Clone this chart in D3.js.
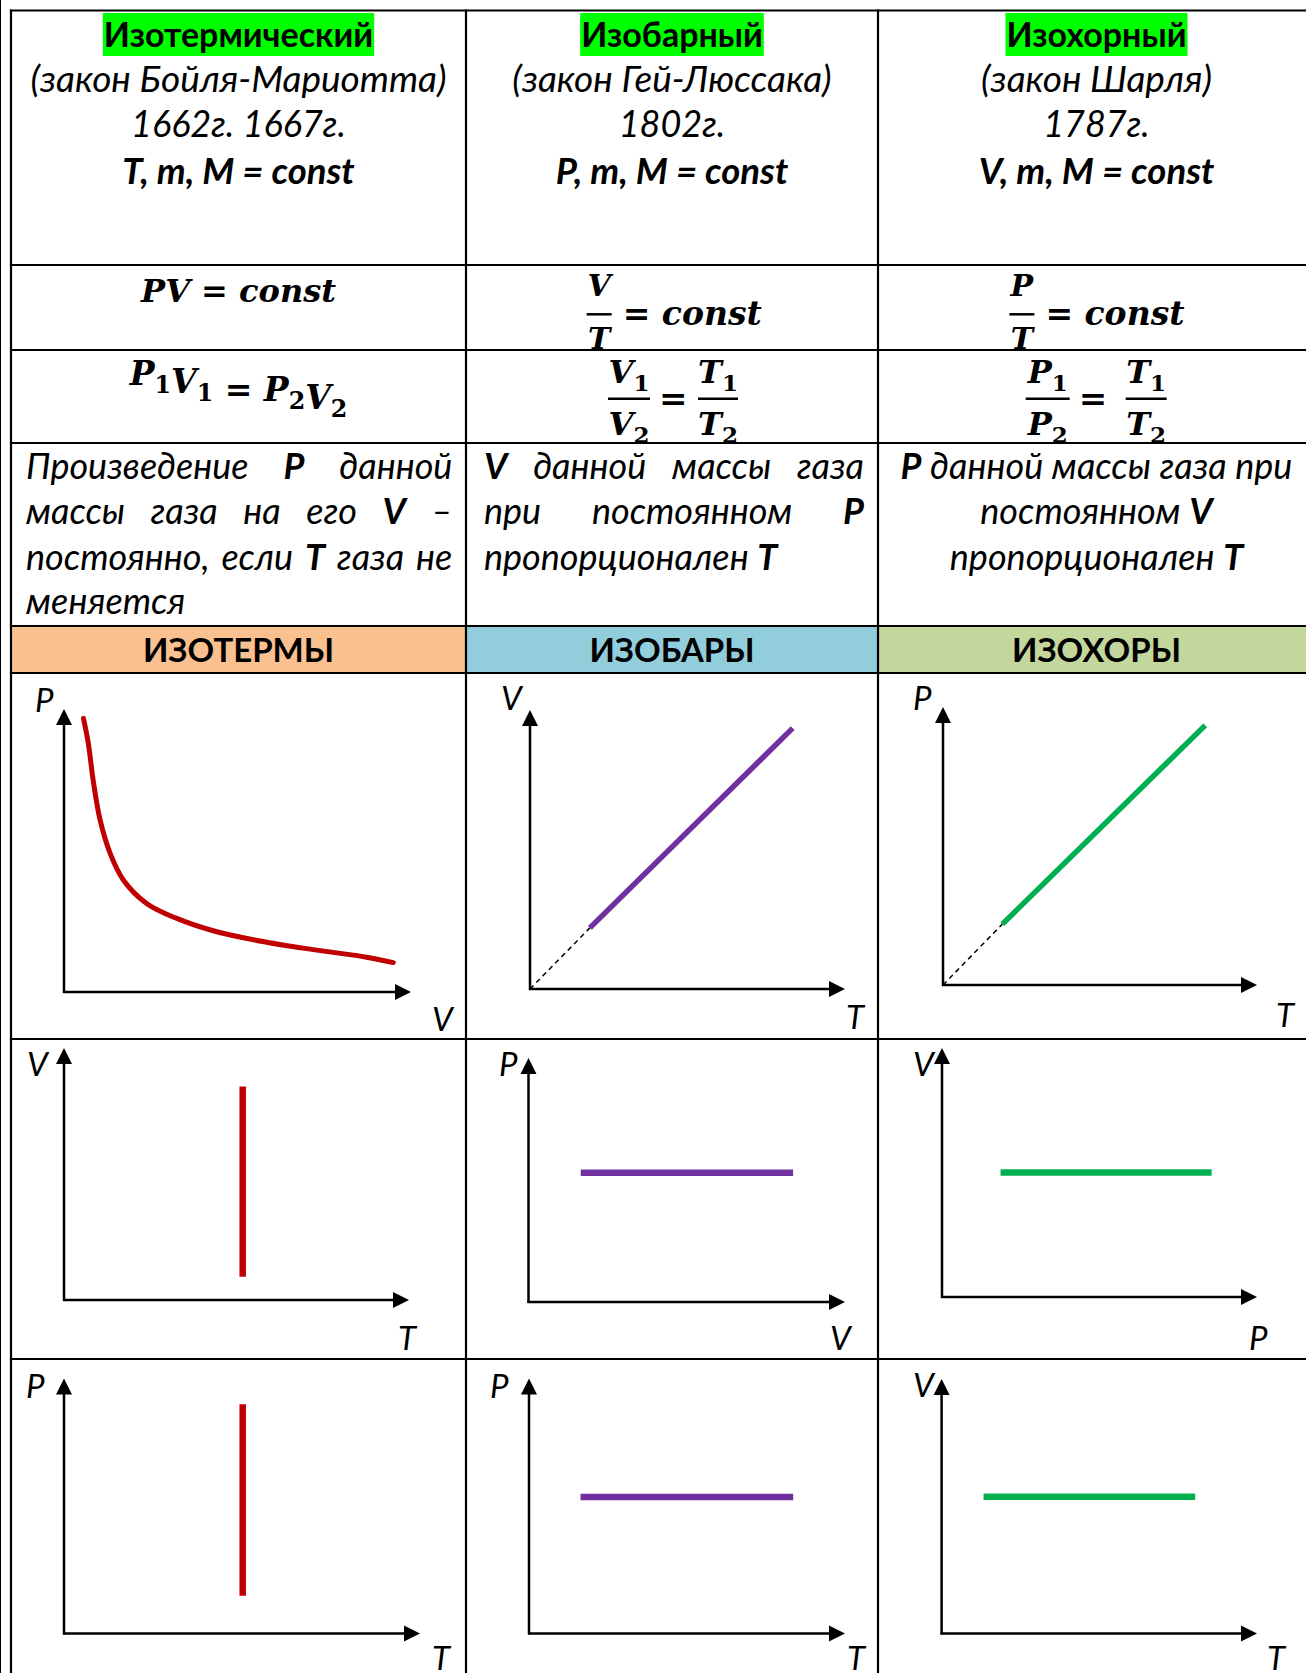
<!DOCTYPE html>
<html>
<head>
<meta charset="utf-8">
<script src="https://cdn.jsdelivr.net/npm/d3@7"></script>
<style>
  body { margin: 0; background: #fff; }
  svg { display: block; }
</style>
</head>
<body>
<svg id="chart" width="1306" height="1673"></svg>
<script>
// ---- data ----
const lawTitles = ["Изотермический", "Изобарный", "Изохорный"];
const lawNames = ["(закон Бойля-Мариотта)", "(закон Гей-Люссака)", "(закон Шарля)"];
const lawYears = ["1662г. 1667г.", "1802г.", "1787г."];
const lawConsts = ["T, m, M = const", "P, m, M = const", "V, m, M = const"];
const processNames = ["ИЗОТЕРМЫ", "ИЗОБАРЫ", "ИЗОХОРЫ"];

const ratioNum = ["V", "P"];
const ratioDen = ["T", "T"];

// bold words are wrapped in *...*
const descLines = [
  ["Произведение *P* данной", "массы газа на его *V* –", "постоянно, если *T* газа не", "меняется"],
  ["*V* данной массы газа", "при постоянном *P*", "пропорционален *T*"],
  ["*P* данной массы газа при", "постоянном *V*", "пропорционален *T*"]
];
const descAlign = [
  ["justify", "justify", "justify", "left"],
  ["justify", "justify", "left"],
  ["center", "center", "center"]
];

// axis names per chart: [y, x]
const axisNames = [
  [["P", "V"], ["V", "T"], ["P", "T"]],
  [["V", "T"], ["P", "V"], ["V", "P"]],
  [["P", "T"], ["P", "T"], ["V", "T"]]
];

// series in axis units (0..10)
const isothermPV = [[0.56, 9.67], [0.70, 8.79], [0.84, 7.49], [1.04, 6.08], [1.33, 4.90], [1.71, 3.96],
  [2.38, 3.13], [3.25, 2.60], [4.40, 2.13], [5.84, 1.76], [7.28, 1.48], [8.72, 1.23], [9.49, 1.04]];
const isobarVT = [[1.90, 2.19], [8.34, 9.35]];
const isochorPT = [[1.89, 2.19], [8.35, 9.34]];
const isothermVT = [[5.18, 0.92], [5.18, 8.47]];
const isobarPV = [[1.65, 5.30], [8.36, 5.30]];
const isochorVP = [[1.86, 5.00], [8.56, 5.00]];
const isothermPT = [[5.02, 1.48], [5.02, 8.99]];
const isobarPT = [[1.63, 5.35], [8.36, 5.35]];
const isochorVT = [[1.33, 5.37], [8.04, 5.37]];

// ---- layout ----
const svg = d3.select("#chart");
const colX = [11, 466, 878, 1315];
const rowY = [10.5, 265, 350, 443, 626, 673, 1039, 1359, 1700];
const colMid = i => (colX[i] + colX[i + 1]) / 2;
const textFont = "Lato, 'Open Sans', sans-serif";
const mathFont = "'DejaVu Serif', serif";

const red = "#c00000", purple = "#7030a0", green = "#00b050";
const bandColors = ["#fac090", "#92cddc", "#c3d69b"];

// coloured band with process names
svg.selectAll("rect.band")
  .data(processNames)
  .enter()
  .append("rect")
  .attr("class", "band")
  .attr("x", (d, i) => colX[i])
  .attr("y", rowY[4])
  .attr("width", (d, i) => colX[i + 1] - colX[i])
  .attr("height", rowY[5] - rowY[4])
  .attr("fill", (d, i) => bandColors[i]);

svg.selectAll("text.proc")
  .data(processNames)
  .enter()
  .append("text")
  .attr("class", "proc")
  .attr("x", (d, i) => colMid(i))
  .attr("y", 662)
  .attr("text-anchor", "middle")
  .style("font-family", textFont)
  .style("font-weight", 700)
  .style("font-size", "33px")
  .text(d => d);

// header block
let hlLayer = svg.append("g");
lawTitles.forEach((t, i) => {
  let txt = svg.append("text")
    .attr("x", colMid(i)).attr("y", 46.7)
    .attr("text-anchor", "middle")
    .style("font-family", textFont)
    .style("font-weight", 700)
    .style("font-size", "34px")
    .text(t);
  let bb = txt.node().getBBox();
  hlLayer.append("rect")
    .attr("x", bb.x - 1).attr("y", 13)
    .attr("width", bb.width + 2).attr("height", 43)
    .attr("fill", "#00ff00");
});

function headerLine(arr, y, weight, size) {
  svg.selectAll(null)
    .data(arr)
    .enter()
    .append("text")
    .attr("x", (d, i) => colMid(i))
    .attr("y", y)
    .attr("text-anchor", "middle")
    .style("font-family", textFont)
    .style("font-style", "italic")
    .style("font-weight", weight)
    .style("font-size", size + "px")
    .text(d => d);
}
headerLine(lawNames, 92, 400, 37);
headerLine(lawYears, 137, 400, 36);
headerLine(lawConsts, 183.5, 700, 36.5);

// formulas
function mathText(x, y, str, size, anchor) {
  // "_1" marks a subscript digit
  let t = svg.append("text")
    .attr("x", x).attr("y", y)
    .attr("text-anchor", anchor || "middle")
    .style("font-family", mathFont)
    .style("font-style", "italic")
    .style("font-weight", 700)
    .style("font-size", size + "px");
  let parts = str.split(/(_\d)/).filter(s => s.length);
  parts.forEach(p => {
    if (p[0] === "_") {
      t.append("tspan").attr("dy", size * 0.24)
        .style("font-size", (size * 0.72) + "px").style("font-style", "normal")
        .text(p.slice(1));
      t.append("tspan").attr("dy", -size * 0.24).text("");
    } else {
      t.append("tspan").text(p);
    }
  });
  return t;
}

function fraction(x0, x1, barY, num, den, size, numY, denY) {
  let cx = (x0 + x1) / 2;
  mathText(cx, numY, num, size);
  mathText(cx, denY, den, size);
  svg.append("line")
    .attr("x1", x0).attr("x2", x1)
    .attr("y1", barY).attr("y2", barY)
    .attr("stroke", "#000").attr("stroke-width", 2.5);
}

mathText(colMid(0), 302, "PV = const", 32);
mathText(colMid(0), 385, "P_1V_1 = P_2V_2", 33);

// V/T = const, P/T = const
[[586.7, 611.7], [1009.4, 1034.4]].forEach((b, k) => {
  fraction(b[0], b[1], 314.3, ratioNum[k], ratioDen[k], 30, 296, 349);
  mathText(b[1] + 11, 325.3, "= const", 33, "start");
});

// V1/V2 = T1/T2, P1/P2 = T1/T2
fraction(608, 650, 398.7, ratioNum[0] + "_1", ratioNum[0] + "_2", 32, 383, 435);
mathText(673.3, 409.5, "=", 34);
fraction(698, 738, 398.7, ratioDen[0] + "_1", ratioDen[0] + "_2", 32, 383, 435);
fraction(1025.7, 1069.7, 398.7, ratioNum[1] + "_1", ratioNum[1] + "_2", 32, 383, 435);
mathText(1093, 409.5, "=", 34);
fraction(1125.7, 1166.7, 398.7, ratioDen[1] + "_1", ratioDen[1] + "_2", 32, 383, 435);

// description paragraphs
function wordLine(str, align, x0, x1, y, size) {
  let g = svg.append("g")
    .style("font-family", textFont)
    .style("font-style", "italic")
    .style("font-size", size + "px");
  let words = str.split(" ").map(w => ({ bold: w[0] === "*", text: w.replace(/\*/g, "") }));
  let nodes = words.map(w => g.append("text").attr("y", y)
    .style("font-weight", w.bold ? 700 : 400).text(w.text));
  let widths = nodes.map(n => n.node().getComputedTextLength());
  let total = d3.sum(widths);
  let gap = size * 0.24;
  let x = x0;
  if (align === "justify") gap = (x1 - x0 - total) / (words.length - 1);
  if (align === "center") x = (x0 + x1) / 2 - (total + gap * (words.length - 1)) / 2;
  nodes.forEach((n, k) => {
    n.attr("x", x);
    x += widths[k] + gap;
  });
}

const descBox = [[26, 452.4], [484, 864], [878, 1315]];
const descBase = [479, 524, 569.5, 613.5];
descLines.forEach((lines, c) => {
  lines.forEach((ln, k) => {
    wordLine(ln, descAlign[c][k], descBox[c][0], descBox[c][1], descBase[k], 36);
  });
});

// table grid
let grid = svg.append("g").attr("stroke", "#000").attr("stroke-width", 2.2);
grid.append("line").attr("x1", 0.5).attr("x2", 0.5).attr("y1", 0).attr("y2", 1673).attr("stroke-width", 1);
grid.selectAll("line.v")
  .data(colX.slice(0, 3))
  .enter()
  .append("line")
  .attr("x1", d => d).attr("x2", d => d)
  .attr("y1", rowY[0] - 1.1).attr("y2", 1673);
grid.selectAll("line.h")
  .data(rowY.slice(0, 8))
  .enter()
  .append("line")
  .attr("x1", colX[0] - 1.1).attr("x2", 1306)
  .attr("y1", d => d).attr("y2", d => d);

// charts
const chartBoxes = [
  [{ ox: 64, oy: 992, xEnd: 411, yEnd: 709, yl: [35, 712], xl: [432, 1031] },
   { ox: 530, oy: 989, xEnd: 845, yEnd: 710, yl: [501, 710], xl: [846, 1029] },
   { ox: 943, oy: 985, xEnd: 1257, yEnd: 707, yl: [913, 710], xl: [1276, 1027] }],
  [{ ox: 64, oy: 1300, xEnd: 409, yEnd: 1048, yl: [27, 1076], xl: [398, 1350] },
   { ox: 528.5, oy: 1302, xEnd: 845, yEnd: 1058, yl: [499, 1076], xl: [830, 1350] },
   { ox: 942, oy: 1297, xEnd: 1257, yEnd: 1048, yl: [913, 1076], xl: [1249, 1350] }],
  [{ ox: 64, oy: 1633.5, xEnd: 420, yEnd: 1378.5, yl: [26, 1398], xl: [432, 1670] },
   { ox: 529, oy: 1633.5, xEnd: 845, yEnd: 1378.5, yl: [490, 1398], xl: [847, 1670] },
   { ox: 941.6, oy: 1633.5, xEnd: 1257, yEnd: 1379, yl: [913, 1397], xl: [1267, 1670] }]
];

const chartSeries = [
  [{ data: isothermPV, color: red, curve: true }, { data: isobarVT, color: purple, dashed: true }, { data: isochorPT, color: green, dashed: true }],
  [{ data: isothermVT, color: red }, { data: isobarPV, color: purple }, { data: isochorVP, color: green }],
  [{ data: isothermPT, color: red }, { data: isobarPT, color: purple }, { data: isochorVT, color: green }]
];

chartBoxes.forEach((row, r) => {
  row.forEach((box, c) => {
    let x = d3.scaleLinear().domain([0, 10]).range([box.ox, box.xEnd]);
    let y = d3.scaleLinear().domain([0, 10]).range([box.oy, box.yEnd]);
    let s = chartSeries[r][c];
    let g = svg.append("g");

    // axes with arrow heads
    g.append("line")
      .attr("x1", x(0) - 1).attr("x2", x(10) - 12)
      .attr("y1", y(0)).attr("y2", y(0))
      .attr("stroke", "#000").attr("stroke-width", 2.5);
    g.append("line")
      .attr("x1", x(0)).attr("x2", x(0))
      .attr("y1", y(0) + 1).attr("y2", y(10) + 12)
      .attr("stroke", "#000").attr("stroke-width", 2.5);
    g.append("path")
      .attr("d", "M" + x(10) + "," + y(0) + "L" + (x(10) - 16) + "," + (y(0) - 8) + "L" + (x(10) - 16) + "," + (y(0) + 8) + "Z")
      .attr("fill", "#000");
    g.append("path")
      .attr("d", "M" + x(0) + "," + y(10) + "L" + (x(0) - 8) + "," + (y(10) + 16) + "L" + (x(0) + 8) + "," + (y(10) + 16) + "Z")
      .attr("fill", "#000");

    // axis names
    g.append("text").attr("x", box.yl[0]).attr("y", box.yl[1])
      .style("font-family", textFont).style("font-style", "italic").style("font-size", "33px")
      .text(axisNames[r][c][0]);
    g.append("text").attr("x", box.xl[0]).attr("y", box.xl[1])
      .style("font-family", textFont).style("font-style", "italic").style("font-size", "33px")
      .text(axisNames[r][c][1]);

    // dashed extrapolation to the origin
    if (s.dashed) {
      g.append("line")
        .attr("x1", x(0)).attr("y1", y(0))
        .attr("x2", x(s.data[0][0])).attr("y2", y(s.data[0][1]))
        .attr("stroke", "#000").attr("stroke-width", 1.5)
        .attr("stroke-dasharray", "5,4");
    }

    let line = d3.line()
      .x(d => x(d[0]))
      .y(d => y(d[1]))
      .curve(s.curve ? d3.curveCatmullRom.alpha(0.5) : d3.curveLinear);

    g.append("path")
      .datum(s.data)
      .attr("d", line)
      .attr("fill", "none")
      .attr("stroke", s.color)
      .attr("stroke-width", s.curve ? 5 : (s.dashed ? 5.5 : 6.5))
      .attr("stroke-linecap", s.curve ? "round" : "butt");
  });
});
</script>
</body>
</html>
